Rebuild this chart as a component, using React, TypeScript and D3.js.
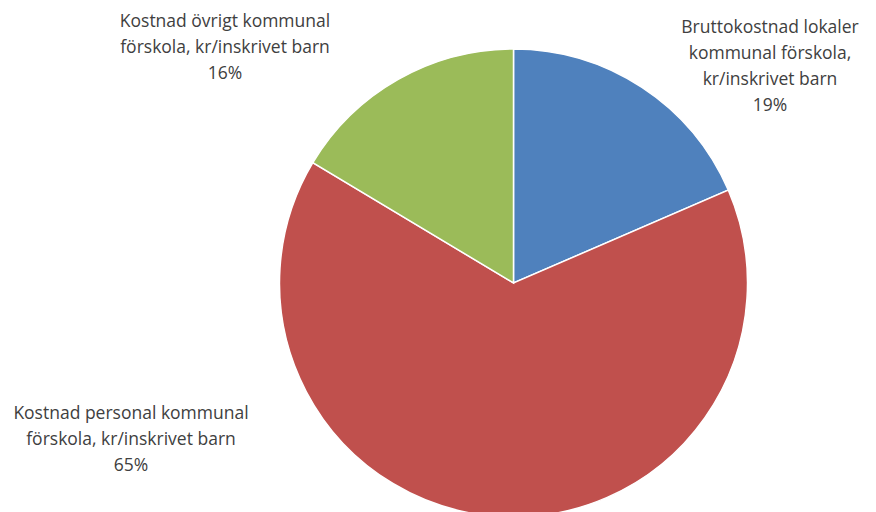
import { useRef, useEffect } from "react";
import * as d3 from "d3";

const categories = [
  "Bruttokostnad lokaler kommunal förskola, kr/inskrivet barn",
  "Kostnad personal kommunal förskola, kr/inskrivet barn",
  "Kostnad övrigt kommunal förskola, kr/inskrivet barn",
];
const shares = [18.5, 65.1, 16.4];
const colors = ["#4f81bd", "#c0504d", "#9bbb59"];
// label lines as Excel wrapped them
const labelLines = [
  ["Bruttokostnad lokaler", "kommunal förskola,", "kr/inskrivet barn"],
  ["Kostnad personal kommunal", "förskola, kr/inskrivet barn"],
  ["Kostnad övrigt kommunal", "förskola, kr/inskrivet barn"],
];

const width = 876;
const height = 512;

const App = () => {
  const svgRef = useRef<SVGSVGElement | null>(null);

  useEffect(() => {
    if (!svgRef.current) return;
    const svg = d3.select(svgRef.current);
    svg.selectAll("*").remove();

    const cx = 513.5;
    const cy = 283;
    const radius = 234;

    const pie = d3.pie<number>().sort(null).value(d => d);
    const arcs = pie(shares);
    const arc = d3.arc<d3.PieArcDatum<number>>().innerRadius(0).outerRadius(radius);

    const g = svg.append("g").attr("transform", `translate(${cx},${cy})`);

    g.selectAll("path")
      .data(arcs)
      .enter()
      .append("path")
      .attr("d", arc)
      .attr("fill", (_, i) => colors[i])
      .attr("stroke", "#fff")
      .attr("stroke-width", 1.5)
      .append("title")
      .text((_, i) => categories[i]);

    // label anchor positions (top line centre), relative to the chart
    const labelAnchors = [
      [770, 27],
      [131, 413],
      [225, 21],
    ];
    const lineH = 26;

    arcs.forEach((a, i) => {
      const lines = [...labelLines[i], `${Math.round(a.data)}%`];
      const t = svg.append("text")
        .attr("text-anchor", "middle")
        .attr("font-family", "'Open Sans', 'Noto Sans', sans-serif")
        .attr("font-size", 17.5)
        .attr("fill", "#404040");
      lines.forEach((l, j) => {
        t.append("tspan")
          .attr("x", labelAnchors[i][0])
          .attr("y", labelAnchors[i][1] + j * lineH)
          .attr("dy", "0.35em")
          .text(l);
      });
    });
  }, []);

  return (
    <svg
      ref={svgRef}
      width={width}
      height={height}
      viewBox={`0 0 ${width} ${height}`}
      style={{ position: "absolute", left: 0, top: 0, background: "#fff" }}
    ></svg>
  );
};

export default App;
